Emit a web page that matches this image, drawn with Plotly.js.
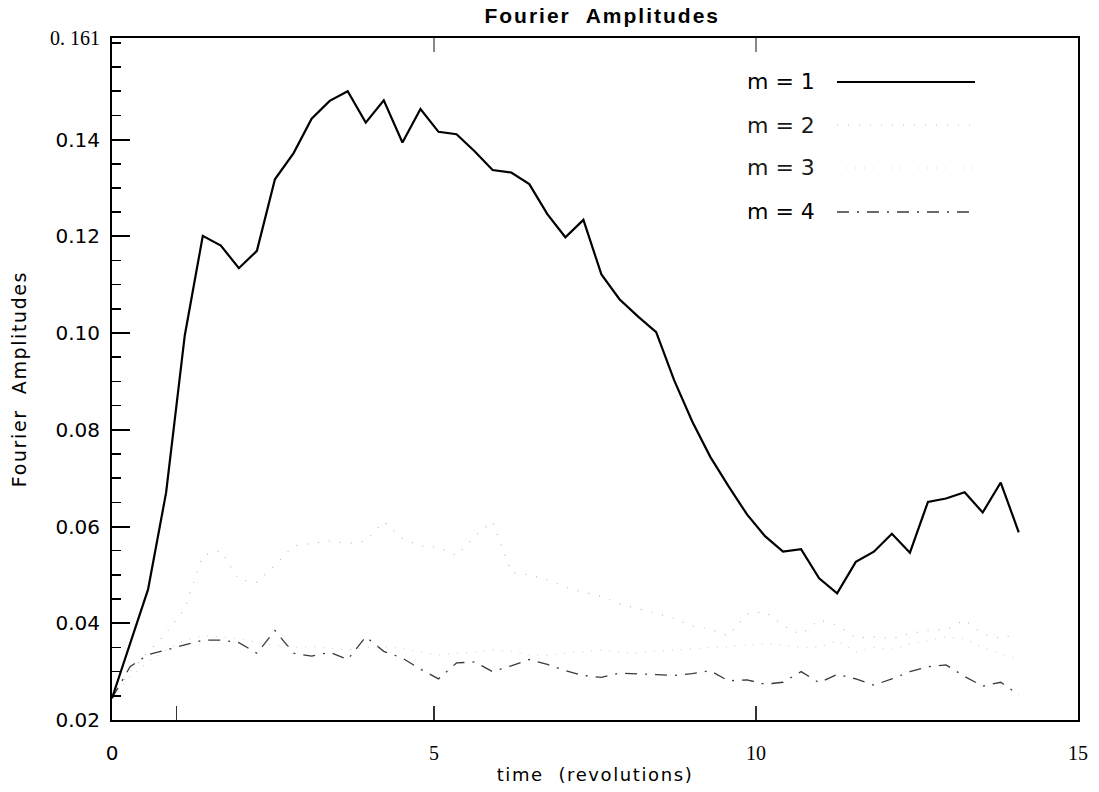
<!DOCTYPE html>
<html>
<head>
<meta charset="utf-8">
<script src="https://cdn.plot.ly/plotly-3.0.1.min.js"></script>
<style>
  html, body { margin: 0; padding: 0; background: #fff; }
  #chart { width: 1099px; height: 792px; }
  .gtitle { letter-spacing: 2px; }
  .g-xtitle text, .g-ytitle text { letter-spacing: 1.6px; }
</style>
</head>
<body>
<div id="chart"></div>
<script>
// ---- data ----
const time = [0, 0.28, 0.56, 0.84, 1.13, 1.41, 1.69, 1.97, 2.25, 2.53, 2.82, 3.10, 3.38, 3.66, 3.94, 4.22, 4.51, 4.79, 5.07, 5.35, 5.63, 5.91, 6.20, 6.48, 6.76, 7.04, 7.32, 7.60, 7.88, 8.17, 8.45, 8.73, 9.01, 9.29, 9.57, 9.86, 10.14, 10.42, 10.70, 10.98, 11.26, 11.55, 11.83, 12.11, 12.39, 12.67, 12.95, 13.24, 13.52, 13.80, 14.08];

const m1 = [0.0245, 0.036, 0.047, 0.067, 0.0995, 0.1201, 0.1181, 0.1134, 0.1170, 0.1318, 0.1372, 0.1443, 0.1480, 0.1500, 0.1435, 0.1481, 0.1394, 0.1463, 0.1416, 0.1411, 0.1376, 0.1337, 0.1332, 0.1308, 0.1246, 0.1198, 0.1234, 0.1121, 0.1070, 0.1034, 0.1002, 0.0902, 0.0817, 0.0744, 0.0684, 0.0625, 0.0580, 0.0548, 0.0553, 0.0493, 0.0462, 0.0527, 0.0548, 0.0585, 0.0546, 0.0651, 0.0658, 0.0671, 0.0629, 0.0691, 0.0588];

const m2 = [0.0245, 0.030, 0.034, 0.038, 0.043, 0.054, 0.055, 0.049, 0.0485, 0.052, 0.056, 0.0565, 0.057, 0.0565, 0.057, 0.061, 0.0575, 0.056, 0.0557, 0.054, 0.058, 0.061, 0.0505, 0.050, 0.049, 0.0475, 0.0464, 0.0456, 0.044, 0.043, 0.042, 0.041, 0.0394, 0.0388, 0.0374, 0.0419, 0.0424, 0.0395, 0.0377, 0.0407, 0.0396, 0.037, 0.0372, 0.0368, 0.0379, 0.0385, 0.0387, 0.0407, 0.0378, 0.0369, 0.0378];

const m3 = [0.0245, 0.029, 0.032, 0.0345, 0.0365, 0.0375, 0.0372, 0.0368, 0.036, 0.0355, 0.035, 0.0352, 0.0348, 0.0345, 0.035, 0.0352, 0.0348, 0.034, 0.0335, 0.0338, 0.034, 0.0345, 0.0342, 0.0335, 0.0334, 0.0338, 0.0342, 0.0345, 0.034, 0.0338, 0.0342, 0.0345, 0.0348, 0.035, 0.0352, 0.0355, 0.0358, 0.0355, 0.035, 0.035, 0.0364, 0.0341, 0.035, 0.0346, 0.0357, 0.0364, 0.0372, 0.0368, 0.035, 0.0336, 0.0326];

const m4 = [0.0245, 0.031, 0.0335, 0.0345, 0.0355, 0.0365, 0.0365, 0.0360, 0.0338, 0.0385, 0.0338, 0.0332, 0.0340, 0.0325, 0.0372, 0.0342, 0.0328, 0.0305, 0.0285, 0.0318, 0.0320, 0.0300, 0.0312, 0.0325, 0.0315, 0.0302, 0.0292, 0.0288, 0.0297, 0.0296, 0.0294, 0.0292, 0.0296, 0.0302, 0.0281, 0.0283, 0.0274, 0.0278, 0.0300, 0.0277, 0.0294, 0.0285, 0.0272, 0.0285, 0.0300, 0.0310, 0.0314, 0.0290, 0.0270, 0.0278, 0.0252];

const seriesNames = ["m = 1", "m = 2", "m = 3", "m = 4"];
const seriesValues = [m1, m2, m3, m4];

const xTickVals = [0, 1, 5, 10, 15];
const xTickText = ["0", "", "5", "10", "15"];
const yTickVals = [0.02, 0.04, 0.06, 0.08, 0.10, 0.12, 0.14, 0.161];
const yTickText = ["0.02", "0.04", "0.06", "0.08", "0.10", "0.12", "0.14", "0. 161"];

// ---- styles ----
const SANS = "DejaVu Sans, Liberation Sans, sans-serif";
const lineStyles = [
  { color: "#000000", width: 2.2, dash: "solid" },
  { color: "#bdbdbd", width: 1.2, dash: "1px,10px" },
  { color: "#d2d2d2", width: 1.2, dash: "1px,8px" },
  { color: "#3a3a3a", width: 1.3, dash: "12px,8px,2px,8px" }
];
const legendFontColors = ["#000", "#1a1a1a", "#1a1a1a", "#000"];

const traces = seriesValues.map((vals, i) => ({
  type: "scatter",
  mode: "lines",
  x: time,
  y: vals,
  name: seriesNames[i],
  line: lineStyles[i],
  showlegend: false,
  hoverinfo: "skip"
}));
// reverse so the solid m = 1 line is drawn on top
traces.reverse();
traces.push({
  type: "scatter", mode: "lines", x: [0, 15], y: [null, null],
  xaxis: "x2", yaxis: "y", showlegend: false, hoverinfo: "skip"
});

// serif tick labels where the reference uses them
const serifLabel = t => '<span style="font-family:' + "'Liberation Serif'" + '">' + t + '</span>';
const xTickTextStyled = xTickText.map((t, i) => (i >= 2 ? serifLabel(t) : t));
const yTickTextStyled = yTickText.map((t, i) => (i === yTickText.length - 1 ? serifLabel(t) : t));

// hand-drawn legend (text left, line sample right)
const legendTop = [0.9355, 0.8724, 0.8094, 0.7449];
const annotations = seriesNames.map((name, i) => ({
  xref: "paper", yref: "paper",
  x: 0.655, y: legendTop[i],
  xanchor: "left", yanchor: "middle",
  text: name, showarrow: false,
  font: { family: SANS, size: 22, color: legendFontColors[i] }
}));
const shapes = seriesNames.map((name, i) => ({
  type: "line", xref: "paper", yref: "paper",
  x0: 0.7505, x1: 0.8934, y0: legendTop[i], y1: legendTop[i],
  line: lineStyles[i]
}));

const layout = {
  width: 1099, height: 792,
  paper_bgcolor: "#ffffff", plot_bgcolor: "#ffffff",
  margin: { l: 112, r: 21, t: 38, b: 72, pad: 0 },
  showlegend: false,
  title: {
    text: "<b>Fourier  Amplitudes</b>",
    font: { family: "Liberation Sans, Arial, sans-serif", size: 21, color: "#000" },
    xref: "container", x: 0.548, xanchor: "center",
    yref: "container", y: 0.99, yanchor: "top"
  },
  xaxis: {
    range: [0, 15], showgrid: false, zeroline: false,
    showline: true, linecolor: "#000", linewidth: 2, mirror: true,
    tickmode: "array", tickvals: xTickVals, ticktext: xTickTextStyled,
    ticks: "inside", ticklen: 14, tickwidth: 1.5, tickcolor: "#333",
    ticklabelstandoff: 14,
    tickfont: { family: SANS, size: 20, color: "#000" },
    title: { text: "time  (revolutions)", font: { family: SANS, size: 18, color: "#000" }, standoff: 4 }
  },
  xaxis2: {
    overlaying: "x", side: "top", matches: "x", range: [0, 15],
    showgrid: false, zeroline: false, showline: false,
    tickmode: "array", tickvals: [5, 10], ticktext: ["", ""],
    ticks: "inside", ticklen: 14, tickwidth: 1.5, tickcolor: "#888"
  },
  yaxis: {
    range: [0.02, 0.161], showgrid: false, zeroline: false,
    showline: true, linecolor: "#000", linewidth: 2, mirror: true,
    tickmode: "array", tickvals: yTickVals, ticktext: yTickTextStyled,
    ticks: "inside", ticklen: 18, tickwidth: 2, tickcolor: "#000",
    ticklabelstandoff: 6,
    tickfont: { family: SANS, size: 20, color: "#000" },
    minor: { ticks: "inside", ticklen: 9, tickwidth: 1.5, tickcolor: "#000", dtick: 0.005, tick0: 0.02, showgrid: false },
    title: { text: "Fourier  Amplitudes", font: { family: SANS, size: 19, color: "#000" }, standoff: 18 }
  },
  annotations: annotations,
  shapes: shapes
};

Plotly.newPlot("chart", traces, layout, { staticPlot: true, displayModeBar: false });
</script>
</body>
</html>
